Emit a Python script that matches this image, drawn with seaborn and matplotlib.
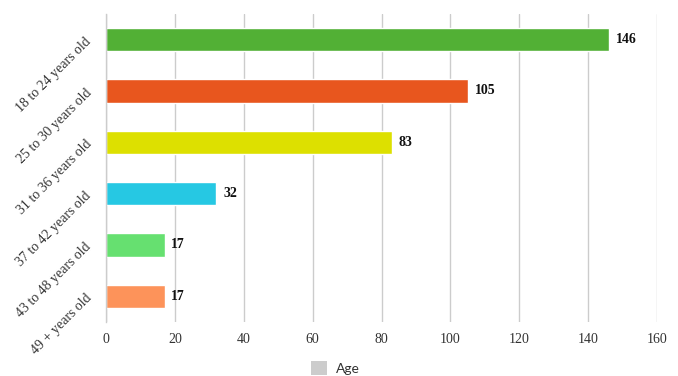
import matplotlib
matplotlib.use("Agg")
import matplotlib.pyplot as plt
import seaborn as sns
import pandas as pd
from matplotlib.patches import Patch

categories = ["18 to 24 years old", "25 to 30 years old", "31 to 36 years old",
              "37 to 42 years old", "43 to 48 years old", "49 + years old"]
values = [146, 105, 83, 32, 17, 17]
colors = ["#52b035", "#e8561e", "#dde000", "#26c8e3", "#66e070", "#fd935a"]
xticks = [0, 20, 40, 60, 80, 100, 120, 140, 160]
legend_label = "Age"

sns.set_style("white")
df = pd.DataFrame({"cat": categories, "val": values})

fig = plt.figure(figsize=(6.78, 3.76), dpi=100)
ax = fig.add_axes([106/678, 1-322/376, (657-106)/678, (322-14)/376])
sns.barplot(data=df, y="cat", x="val", hue="cat", palette=colors, order=categories,
            hue_order=categories, legend=False, width=0.46, ax=ax, saturation=1)

ax.set_xlim(0, 160)
ax.set_ylim(5.5, -0.5)
ax.set_xticks(xticks)
ax.set_xticklabels([str(t) for t in xticks], fontfamily="Liberation Serif", fontsize=10, color="#333333")
ax.tick_params(axis="x", length=0, pad=8)
ax.grid(axis="x", color="#cccccc", linewidth=1)
ax.set_axisbelow(True)
for s in ["top", "right", "bottom"]:
    ax.spines[s].set_visible(False)
ax.spines["left"].set_color("#cccccc")
ax.spines["left"].set_linewidth(1)

ax.set_yticks(range(len(categories)))
ax.set_yticklabels(categories, rotation=45, ha="right", va="center", rotation_mode="anchor",
                   fontfamily="Liberation Serif", fontsize=10, color="#333333")
ax.tick_params(axis="y", which="major", length=0, pad=12)
ax.set_yticks([i - 0.5 for i in range(len(categories) + 1)], minor=True)
ax.tick_params(axis="y", which="minor", length=10, color="#cccccc", width=1)
ax.set_xlabel("")
ax.set_ylabel("")

for i, v in enumerate(values):
    ax.text(v + 2, i, str(v), va="center", ha="left", fontfamily="Liberation Serif",
            fontweight="bold", fontsize=10, color="#111111")

fig.legend(handles=[Patch(facecolor="#cccccc", edgecolor="none", label=legend_label)],
           loc="center", bbox_to_anchor=(335/678, 1-368/376), frameon=False,
           prop={"family": "Lato", "size": 10}, handlelength=1.2, handleheight=1.2,
           handletextpad=0.6, labelcolor="#333333")

fig.savefig("out.png", dpi=100)
